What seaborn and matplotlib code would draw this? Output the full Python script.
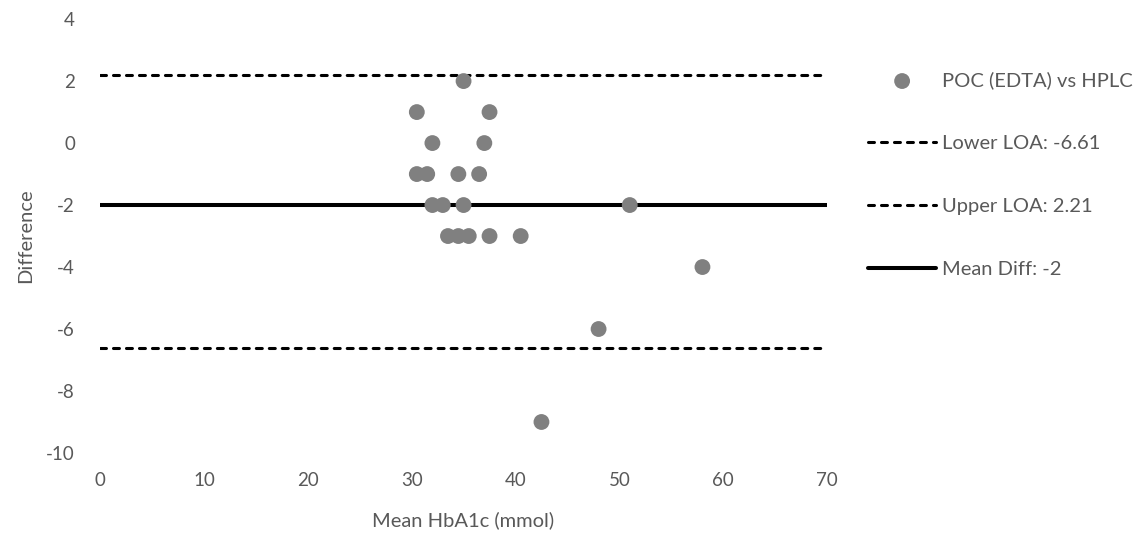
import matplotlib
matplotlib.use("Agg")
import matplotlib.pyplot as plt
import seaborn as sns
import pandas as pd

# Bland-Altman data: mean of the two methods vs their difference
mean_hba1c = [35, 30.5, 37.5, 32, 37, 30.5, 31.5, 34.5, 36.5,
              32, 33, 35, 51,
              33.5, 34.5, 35.5, 37.5, 40.5,
              58, 48, 42.5]
difference = [2, 1, 1, 0, 0, -1, -1, -1, -1,
              -2, -2, -2, -2,
              -3, -3, -3, -3, -3,
              -4, -6, -9]

series_label = "POC (EDTA) vs HPLC"
lower_loa = -6.61
upper_loa = 2.21
mean_diff = -2

x_ticks = [0, 10, 20, 30, 40, 50, 60, 70]
y_ticks = [-10, -8, -6, -4, -2, 0, 2, 4]

df = pd.DataFrame({"Mean HbA1c (mmol)": mean_hba1c, "Difference": difference})

sns.set_theme(style="white")
plt.rcParams["font.family"] = ["Lato", "DejaVu Sans"]
plt.rcParams["axes.unicode_minus"] = False
text_col = "#595959"

fig = plt.figure(figsize=(11.47, 5.35), dpi=100)
ax = fig.add_axes([0.0872, 0.1533, 0.6339, 0.811])

sns.scatterplot(data=df, x="Mean HbA1c (mmol)", y="Difference", ax=ax,
                color="#808080", s=130, edgecolor="none", label=series_label,
                zorder=3)

dash = (0, (1.95, 2.3))
ax.axhline(lower_loa, color="black", lw=2.2, ls=dash, dash_capstyle="round",
           label=f"Lower LOA: {lower_loa}", zorder=2)
ax.axhline(upper_loa, color="black", lw=2.2, ls=dash, dash_capstyle="round",
           label=f"Upper LOA: {upper_loa}", zorder=2)
ax.axhline(mean_diff, color="black", lw=2.9, ls="-", solid_capstyle="round",
           label=f"Mean Diff: {mean_diff}", zorder=2)

ax.set_xlim(0, 70)
ax.set_ylim(-10, 4)
ax.set_xticks(x_ticks)
ax.set_yticks(y_ticks)
ax.tick_params(axis="both", length=0, labelsize=13.5, labelcolor=text_col)
ax.tick_params(axis="x", pad=14)
ax.tick_params(axis="y", pad=18)
for s in ax.spines.values():
    s.set_visible(False)
ax.grid(False)

ax.set_xlabel("Mean HbA1c (mmol)", fontsize=14.5, color=text_col, labelpad=16)
ax.set_ylabel("Difference", fontsize=14.5, color=text_col, labelpad=9)

handles, labels = ax.get_legend_handles_labels()
leg = ax.legend(handles, labels, loc="upper left", bbox_to_anchor=(1.045, 0.898),
                frameon=False, fontsize=14.5, labelcolor=text_col,
                handlelength=3.4, handletextpad=0.3, labelspacing=2.27,
                borderaxespad=0)

fig.savefig("out.png", dpi=100)
